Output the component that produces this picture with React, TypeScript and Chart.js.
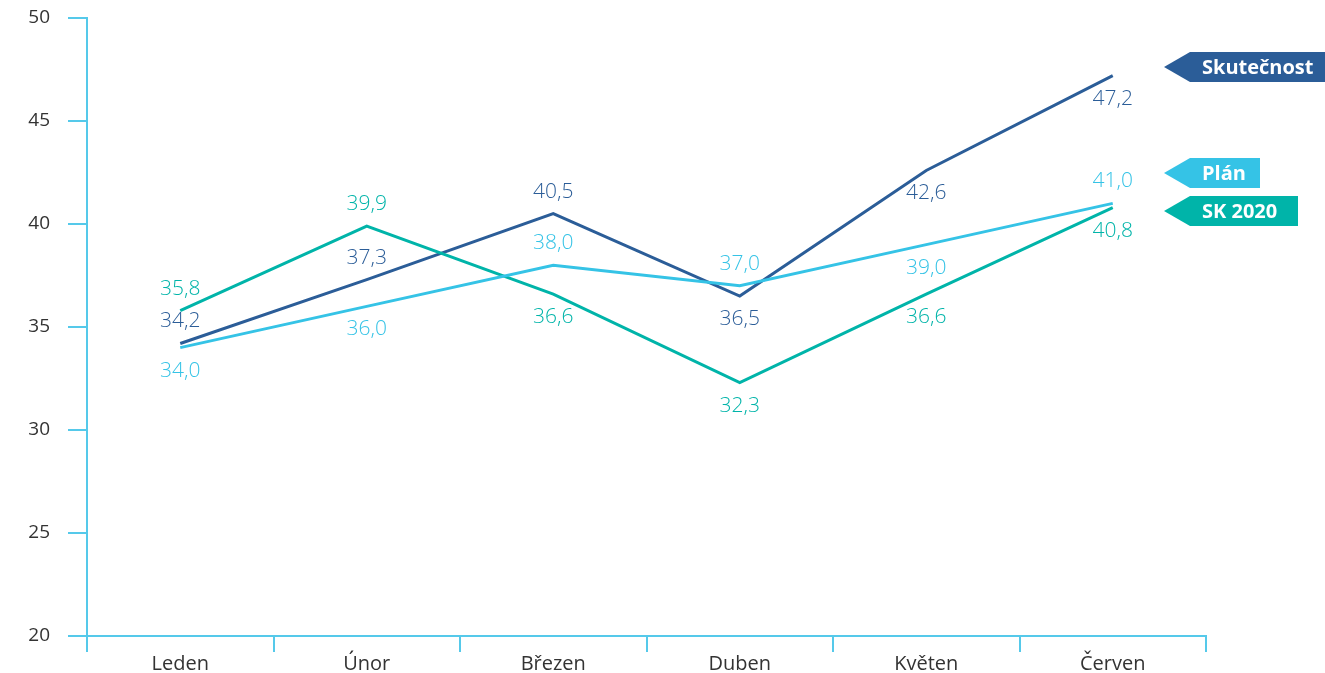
import React, { useEffect, useRef } from "react";
import { Chart, registerables } from "chart.js";

Chart.register(...registerables);

const categories = ["Leden", "Únor", "Březen", "Duben", "Květen", "Červen"];
const skutecnost = [34.2, 37.3, 40.5, 36.5, 42.6, 47.2];
const plan = [34.0, 36.0, 38.0, 37.0, 39.0, 41.0];
const sk2020 = [35.8, 39.9, 36.6, 32.3, 36.6, 40.8];
const yTicks = [20, 25, 30, 35, 40, 45, 50];

// label placement per point: -1 above, 1 below
const skutecnostPos = [-1, -1, -1, 1, 1, 1];
const planPos = [1, 1, -1, -1, 1, -1];
const sk2020Pos = [-1, -1, 1, 1, 1, 1];

const C_DARK = "#2b5d98";
const C_LIGHT = "#35c3e6";
const C_TEAL = "#00b4a9";
const C_AXIS = "#55c9ea";
const FONT = "'Open Sans', Lato, sans-serif";

const legendTags = [
  { text: "Skutečnost", color: C_DARK, y: 67, right: 1325 },
  { text: "Plán", color: C_LIGHT, y: 173, right: 1260 },
  { text: "SK 2020", color: C_TEAL, y: 211, right: 1298 },
];

const labelPlugin = {
  id: "valueLabels",
  afterDatasetsDraw(chart: any) {
    const ctx = chart.ctx;
    ctx.save();
    ctx.font = `300 21px ${FONT}`;
    ctx.textAlign = "center";
    ctx.textBaseline = "middle";
    chart.data.datasets.forEach((ds: any, di: number) => {
      const meta = chart.getDatasetMeta(di);
      ctx.fillStyle = ds.borderColor;
      meta.data.forEach((pt: any, i: number) => {
        const v = ds.data[i] as number;
        const pos = ds.labelPos[i];
        const txt = v.toFixed(1).replace(".", ",");
        ctx.fillText(txt, pt.x, pt.y + (pos < 0 ? -22 : 23));
      });
    });
    ctx.restore();
  },
};

const tagPlugin = {
  id: "tags",
  afterDraw(chart: any) {
    const ctx = chart.ctx;
    ctx.save();
    legendTags.forEach((t) => {
      const h = 30;
      const tip = 1164;
      const rectLeft = 1190;
      ctx.fillStyle = t.color;
      ctx.beginPath();
      ctx.moveTo(tip, t.y);
      ctx.lineTo(rectLeft, t.y - h / 2);
      ctx.lineTo(t.right, t.y - h / 2);
      ctx.lineTo(t.right, t.y + h / 2);
      ctx.lineTo(rectLeft, t.y + h / 2);
      ctx.closePath();
      ctx.fill();
      ctx.fillStyle = "#ffffff";
      ctx.font = `bold 20px ${FONT}`;
      ctx.textAlign = "left";
      ctx.textBaseline = "middle";
      ctx.fillText(t.text, 1202, t.y + 1);
    });
    ctx.restore();
  },
};

export default function App() {
  const ref = useRef<HTMLCanvasElement>(null);
  useEffect(() => {
    if (!ref.current) return;
    const chart = new Chart(ref.current, {
      type: "line",
      data: {
        labels: categories,
        datasets: [
          { label: "Plán", data: plan, borderColor: C_LIGHT, backgroundColor: C_LIGHT, labelPos: planPos } as any,
          { label: "SK 2020", data: sk2020, borderColor: C_TEAL, backgroundColor: C_TEAL, labelPos: sk2020Pos } as any,
          { label: "Skutečnost", data: skutecnost, borderColor: C_DARK, backgroundColor: C_DARK, labelPos: skutecnostPos } as any,
        ],
      },
      options: {
        responsive: false,
        animation: false,
        layout: { padding: { left: 0, right: 119, top: 18, bottom: 0 } },
        elements: {
          line: { borderWidth: 3, tension: 0 },
          point: { radius: 0, hoverRadius: 0 },
        },
        plugins: { legend: { display: false }, tooltip: { enabled: false } },
        scales: {
          x: {
            offset: true,
            grid: { offset: true, drawOnChartArea: false, drawTicks: true, tickLength: 16, color: C_AXIS, lineWidth: 2 },
            border: { color: C_AXIS, width: 2 },
            ticks: { color: "#333333", font: { family: FONT, size: 20 }, padding: 0 },
            afterFit: (s: any) => { s.height = 37; s.paddingLeft = 0; s.paddingRight = 0; },
          },
          y: {
            min: 20,
            max: 50,
            afterBuildTicks: (s: any) => { s.ticks = yTicks.map((v) => ({ value: v })); },
            grid: { drawOnChartArea: false, drawTicks: true, tickLength: 19, color: C_AXIS, lineWidth: 2 },
            border: { color: C_AXIS, width: 2 },
            ticks: { color: "#333333", font: { family: FONT, size: 19 }, padding: 18 },
            afterFit: (s: any) => { s.width = 87; s.paddingTop = 0; s.paddingBottom = 0; },
          },
        },
      },
      plugins: [labelPlugin, tagPlugin],
    });
    return () => chart.destroy();
  }, []);
  return (
    <div style={{ position: "fixed", left: 0, top: 0, width: 1325, height: 673, background: "#fff" }}>
      <canvas ref={ref} width={1325} height={673} style={{ width: 1325, height: 673, display: "block" }} />
    </div>
  );
}
